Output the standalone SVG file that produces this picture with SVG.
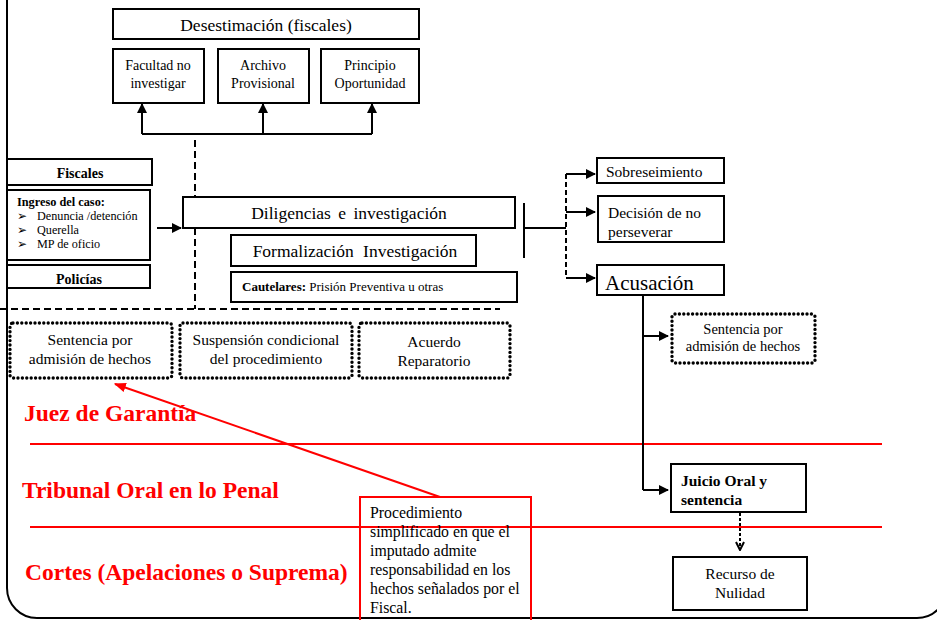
<svg xmlns="http://www.w3.org/2000/svg" width="937" height="620" viewBox="0 0 937 620">
<style>
text{font-family:"Liberation Serif","Times New Roman",serif;fill:#000}
.box{fill:#fff;stroke:#000;stroke-width:2}
.dot{fill:#fff;stroke:#000;stroke-width:3.4;stroke-dasharray:0 4.4;stroke-linecap:round}
.ln{fill:none;stroke:#000;stroke-width:2}
.dash{fill:none;stroke:#000;stroke-width:2;stroke-dasharray:7 4}
.red{fill:none;stroke:#f00;stroke-width:2}
.rt{fill:#f00;font-weight:bold;font-size:23.5px}
.c{text-anchor:middle}
.b{font-weight:bold}
.co{font-size:15.8px}
</style>
<defs>
<marker id="ah" viewBox="0 0 10 10" refX="9" refY="5" markerWidth="5" markerHeight="5" orient="auto" markerUnits="strokeWidth">
<path d="M0,0 L10,5 L0,10 z" fill="#000"/>
</marker>
<marker id="av" viewBox="0 0 10 10" refX="9" refY="5" markerWidth="5" markerHeight="5" orient="auto" markerUnits="strokeWidth">
<path d="M1,1 L9,5 L1,9" fill="none" stroke="#000" stroke-width="2"/>
</marker>
<marker id="ar" viewBox="0 0 10 10" refX="9" refY="5" markerWidth="6" markerHeight="6" orient="auto" markerUnits="strokeWidth">
<path d="M0,1 L10,5 L0,9 z" fill="#f00"/>
</marker>
</defs>
<rect width="937" height="620" fill="#fff"/>
<rect id="frame" x="7" y="-40" width="940" height="658" rx="30" fill="none" stroke="#000" stroke-width="2"/>

<g id="red-lines">
<line x1="30" y1="444" x2="882" y2="444" stroke="#f00" stroke-width="2"/>
<line x1="30" y1="527" x2="882" y2="527" stroke="#f00" stroke-width="2"/>
</g>

<g id="connectors">
<path class="ln" d="M142,134 H372"/>
<path class="ln" d="M142,134 V104" marker-end="url(#ah)"/>
<path class="ln" d="M263,134 V104" marker-end="url(#ah)"/>
<path class="ln" d="M372,134 V104" marker-end="url(#ah)"/>
<path class="dash" d="M195,140 V309"/>
<path class="dash" d="M0,309 H500"/>
<path class="ln" d="M157,228 H181" marker-end="url(#ah)"/>
<path class="ln" d="M524,203 V258 M524,228 H566"/>
<path class="dash" d="M566,174 V278" style="stroke-dasharray:5 3"/>
<path class="ln" d="M566,174 H595" marker-end="url(#ah)"/>
<path class="ln" d="M566,212 H595" marker-end="url(#ah)"/>
<path class="ln" d="M566,278 H595" marker-end="url(#ah)"/>
<path class="ln" d="M643,295 V490"/>
<path class="ln" d="M643,336 H668" marker-end="url(#ah)"/>
<path class="ln" d="M643,490 H668" marker-end="url(#ah)"/>
<path class="ln" d="M740,513 V550" style="stroke-dasharray:3 2" marker-end="url(#av)"/>
<path class="red" d="M440,497 L115,384" marker-end="url(#ar)"/>
</g>

<g id="desestimacion"><rect class="box" x="113" y="9" width="306" height="30"/><text class="c" x="266" y="31" font-size="17.5">Desestimación (fiscales)</text></g>
<g id="facultad"><rect class="box" x="113" y="49" width="91" height="54"/><text class="c" x="158" y="70" font-size="14">Facultad no</text><text class="c" x="158" y="88" font-size="14">investigar</text></g>
<g id="archivo"><rect class="box" x="218" y="49" width="91" height="54"/><text class="c" x="263" y="70" font-size="14">Archivo</text><text class="c" x="263" y="88" font-size="14">Provisional</text></g>
<g id="principio"><rect class="box" x="321" y="49" width="98" height="54"/><text class="c" x="370" y="70" font-size="14">Principio</text><text class="c" x="370" y="88" font-size="14">Oportunidad</text></g>

<g id="fiscales"><rect class="box" x="7" y="159" width="145" height="26"/><text class="c b" x="80" y="178" font-size="14">Fiscales</text></g>
<g id="ingreso"><rect class="box" x="7" y="190" width="143" height="70"/>
<text class="b" x="17" y="206" font-size="12.3">Ingreso del caso:</text>
<text x="17" y="220" font-size="12">➢</text><text x="37" y="220" font-size="12.2">Denuncia /detención</text>
<text x="17" y="234" font-size="12">➢</text><text x="37" y="234" font-size="12.2">Querella</text>
<text x="17" y="248" font-size="12">➢</text><text x="37" y="248" font-size="12.2">MP de oficio</text></g>
<g id="policias"><rect class="box" x="7" y="265" width="143" height="23"/><text class="c b" x="79" y="284" font-size="14">Policías</text></g>

<g id="diligencias"><rect class="box" x="183" y="197" width="332" height="31"/><text class="c" x="349" y="219" font-size="17.5" word-spacing="3">Diligencias e investigación</text></g>
<g id="formalizacion"><rect class="box" x="231" y="235" width="245" height="31"/><text class="c" x="355" y="257" font-size="17.5" word-spacing="5">Formalización Investigación</text></g>
<g id="cautelares"><rect class="box" x="231" y="272" width="286" height="30"/><text x="242" y="291" font-size="13"><tspan font-weight="bold">Cautelares:</tspan> Prisión Preventiva u otras</text></g>

<g id="sentencia-izq"><rect class="dot" x="10" y="323" width="162" height="55" rx="3"/><text class="c" x="90" y="345" font-size="15.5">Sentencia por</text><text class="c" x="90" y="364" font-size="15.5">admisión de hechos</text></g>
<g id="suspension"><rect class="dot" x="180" y="323" width="172" height="55" rx="3"/><text class="c" x="266" y="345" font-size="15.5">Suspensión condicional</text><text class="c" x="266" y="364" font-size="15.5">del procedimiento</text></g>
<g id="acuerdo"><rect class="dot" x="359" y="323" width="151" height="55" rx="3"/><text class="c" x="434" y="347" font-size="15.5">Acuerdo</text><text class="c" x="434" y="366" font-size="15.5">Reparatorio</text></g>

<g id="sobreseimiento"><rect class="box" x="597" y="158" width="127" height="25"/><text x="606" y="177" font-size="15.5">Sobreseimiento</text></g>
<g id="decision"><rect class="box" x="598" y="196" width="126" height="46"/><text x="608" y="218" font-size="15.5">Decisión de no</text><text x="608" y="237" font-size="15.5">perseverar</text></g>
<g id="acusacion"><rect class="box" x="597" y="265" width="127" height="30"/><text x="605" y="290" font-size="21">Acusación</text></g>
<g id="sentencia-der"><rect class="dot" x="672" y="314" width="143" height="49" rx="3"/><text class="c" x="743" y="334" font-size="14.5">Sentencia por</text><text class="c" x="743" y="351" font-size="14.5">admisión de hechos</text></g>
<g id="juicio"><rect class="box" x="671" y="464" width="135" height="48"/><text class="b" x="681" y="486" font-size="15.5">Juicio Oral y</text><text class="b" x="681" y="505" font-size="15.5">sentencia</text></g>
<g id="recurso"><rect class="box" x="673" y="557" width="134" height="53"/><text class="c" x="740" y="579" font-size="15.5">Recurso de</text><text class="c" x="740" y="598" font-size="15.5">Nulidad</text></g>

<g id="labels">
<text class="rt" x="24" y="421">Juez de Garantía</text>
<text class="rt" x="22" y="498">Tribunal Oral en lo Penal</text>
<text class="rt" x="25" y="580">Cortes (Apelaciones o Suprema)</text>
</g>

<g id="callout"><rect x="360" y="497" width="171" height="130" fill="none" stroke="#f00" stroke-width="2"/>
<text class="co" x="370" y="518">Procedimiento</text>
<text class="co" x="370" y="537">simplificado en que el</text>
<text class="co" x="370" y="556">imputado admite</text>
<text class="co" x="370" y="575">responsabilidad en los</text>
<text class="co" x="370" y="594">hechos señalados por el</text>
<text class="co" x="370" y="613">Fiscal.</text>
</g>
</svg>
